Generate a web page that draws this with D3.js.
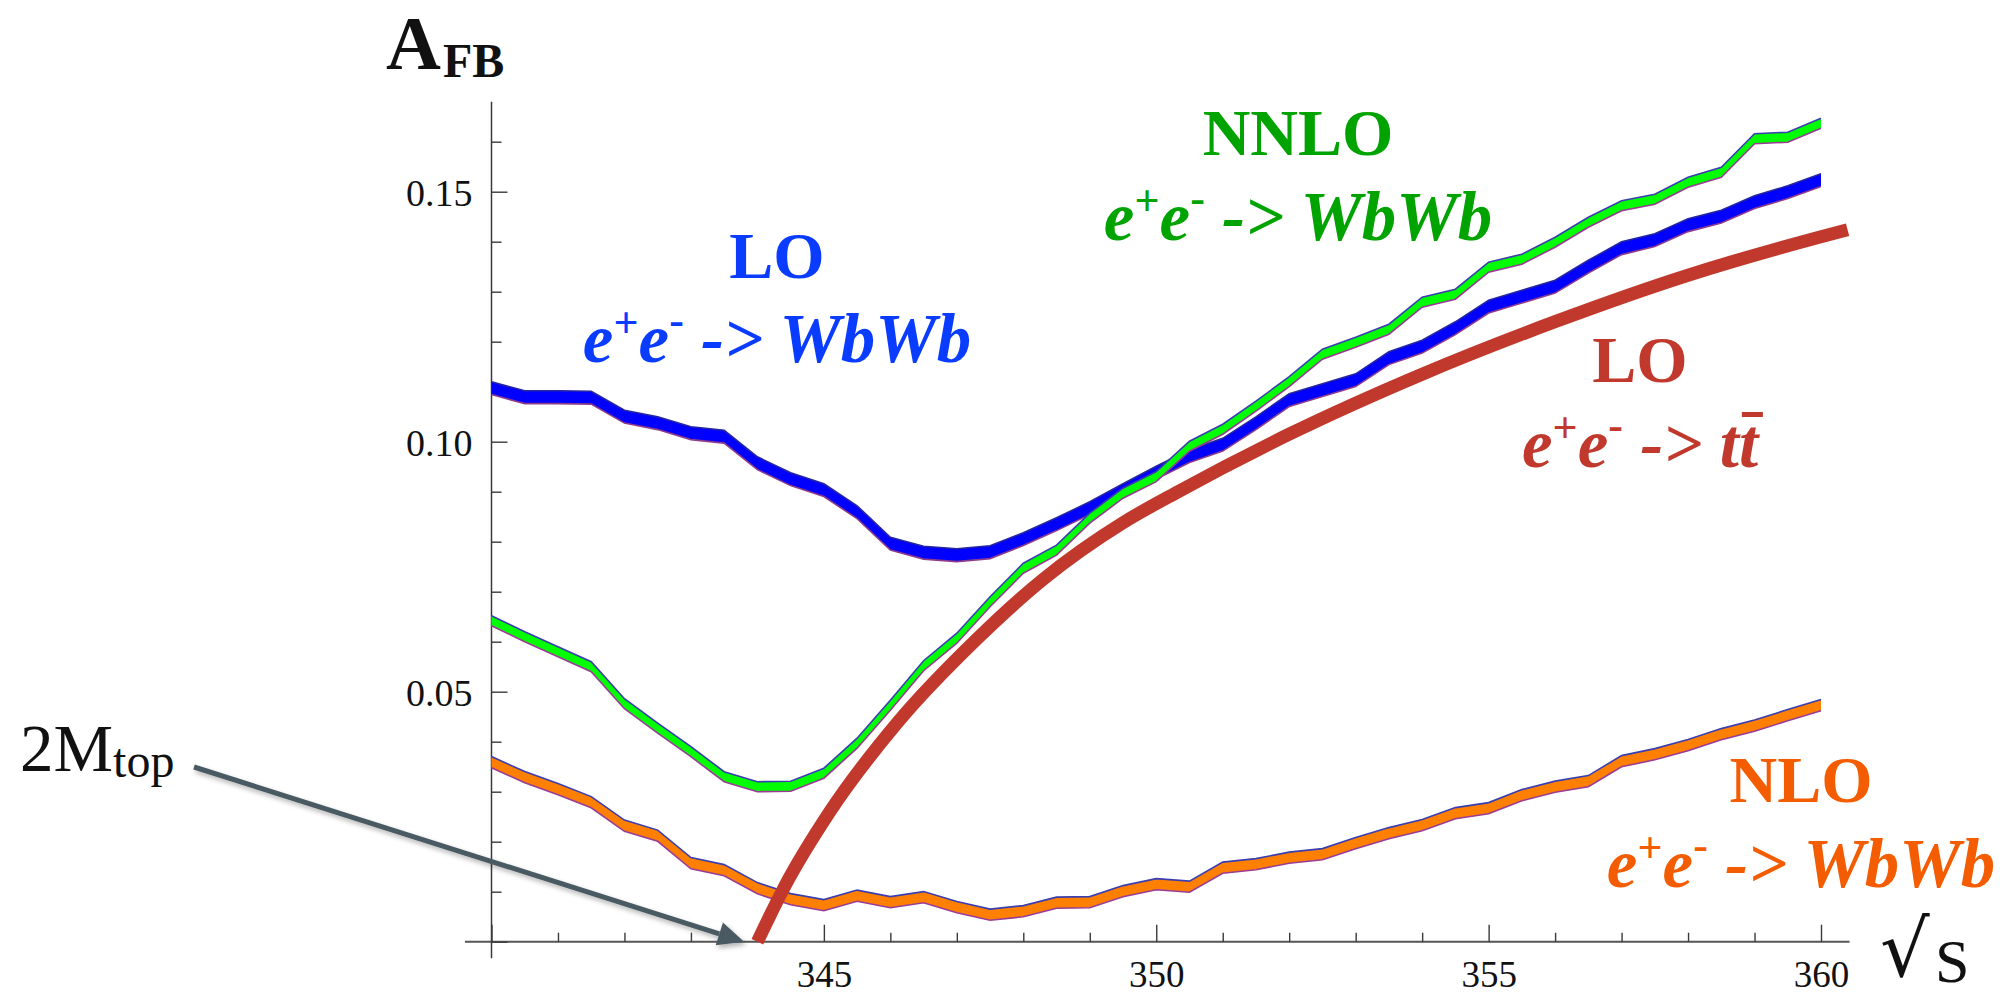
<!DOCTYPE html>
<html>
<head>
<meta charset="utf-8">
<script src="https://cdn.jsdelivr.net/npm/d3@7"></script>
<style>
  body { margin: 0; background: #fff; }
  svg { display: block; }
</style>
</head>
<body>
<div id="chart"></div>
<script>
(() => {
'use strict';

const WIDTH = 2000;
const HEIGHT = 996;

// sqrt(s) grid of the WbWb calculation (GeV)
const SQRT_S = [
  340, 340.5, 341, 341.5, 342, 342.5, 343, 343.5, 344, 344.5,
  345, 345.5, 346, 346.5, 347, 347.5, 348, 348.5, 349, 349.5,
  350, 350.5, 351, 351.5, 352, 352.5, 353, 353.5, 354, 354.5,
  355, 355.5, 356, 356.5, 357, 357.5, 358, 358.5, 359, 359.5, 360
];

const AFB_LO = [
  0.1107, 0.1089, 0.1089, 0.1088, 0.1050, 0.1037, 0.1017, 0.1010, 0.0957, 0.0925,
  0.0903, 0.0859, 0.0796, 0.0778, 0.0773, 0.0779, 0.0805, 0.0835, 0.0867, 0.0903,
  0.0938, 0.0971, 0.0994, 0.1037, 0.1083, 0.1103, 0.1123, 0.1167, 0.1190, 0.1227,
  0.1270, 0.1290, 0.1310, 0.1350, 0.1387, 0.1403, 0.1433, 0.1450, 0.1479, 0.1499, 0.1523
];

const AFB_NLO = [
  0.0359, 0.0329, 0.0305, 0.0279, 0.0232, 0.0212, 0.0157, 0.0143, 0.0107, 0.0085,
  0.0073, 0.0092, 0.0079, 0.0089, 0.0069, 0.0054, 0.0061, 0.0078, 0.0079, 0.0101,
  0.0115, 0.0110, 0.0148, 0.0155, 0.0168, 0.0175, 0.0197, 0.0217, 0.0233, 0.0257,
  0.0267, 0.0293, 0.0310, 0.0321, 0.0361, 0.0375, 0.0393, 0.0415, 0.0432, 0.0453, 0.0473
];

const AFB_NNLO = [
  0.0642, 0.0610, 0.0580, 0.0550, 0.0476, 0.0427, 0.0380, 0.0330, 0.0310, 0.0311,
  0.0337, 0.0397, 0.0473, 0.0552, 0.0607, 0.0680, 0.0747, 0.0783, 0.0847, 0.0897,
  0.0930, 0.0991, 0.1025, 0.1071, 0.1120, 0.1175, 0.1199, 0.1225, 0.1279, 0.1295,
  0.1349, 0.1365, 0.1399, 0.1439, 0.1472, 0.1485, 0.1519, 0.1539, 0.1606, 0.1609, 0.1637
];

// LO e+e- -> t tbar, smooth curve
const TT_S = [344, 344.4, 345.1, 346.1, 347.3, 348.3, 349.5, 350.3, 352, 354, 356, 358, 360, 360.4];
const TT_AFB = [0, 0.0108, 0.0262, 0.0437, 0.0605, 0.0725, 0.0838, 0.0898, 0.1015, 0.1135,
  0.1240, 0.1333, 0.1410, 0.1424];

const X_MAJOR = [340, 345, 350, 355, 360];
const X_MINOR = [341, 342, 343, 344, 346, 347, 348, 349, 351, 352, 353, 354, 356, 357, 358, 359];
const Y_MAJOR = [0, 0.05, 0.10, 0.15];
const Y_MINOR = [0.01, 0.02, 0.03, 0.04, 0.06, 0.07, 0.08, 0.09, 0.11, 0.12, 0.13, 0.14, 0.16];
const X_LABELS = ['', '345', '350', '355', '360'];
const Y_LABELS = ['', '0.05', '0.10', '0.15'];
const X_EXTENT = [339.6, 360.43];
const Y_EXTENT = [-0.0033, 0.168];
const THRESHOLD = 343.8;

const SERIF = "'Liberation Serif', 'Times New Roman', serif";

const svg = d3.select('#chart')
  .append('svg')
  .attr('width', WIDTH)
  .attr('height', HEIGHT);

const defs = svg.append('defs');
defs.append('filter')
  .attr('id', 'shadow')
  .attr('x', '-10%').attr('y', '-10%')
  .attr('width', '120%').attr('height', '140%')
  .append('feDropShadow')
    .attr('dx', 2).attr('dy', 3)
    .attr('stdDeviation', 2.5)
    .attr('flood-color', '#000')
    .attr('flood-opacity', 0.3);

const xScale = d3.scaleLinear().domain([340, 360]).range([491.5, 1821]);
const yScale = d3.scaleLinear().domain([0, 0.15]).range([941.7, 191.7]);

// axes
const axisColor = '#3a3a3a';

svg.append('line')
  .attr('x1', xScale(X_EXTENT[0])).attr('x2', xScale(X_EXTENT[1]))
  .attr('y1', yScale(0)).attr('y2', yScale(0))
  .attr('stroke', '#555').attr('stroke-width', 2);

svg.append('line')
  .attr('x1', xScale(340)).attr('x2', xScale(340))
  .attr('y1', yScale(Y_EXTENT[0])).attr('y2', yScale(Y_EXTENT[1]))
  .attr('stroke', axisColor).attr('stroke-width', 1.5);

const styleAxis = (g) => {
  g.select('.domain').remove();
  g.selectAll('.tick line').attr('stroke', axisColor).attr('stroke-width', 1.4);
  g.selectAll('.tick text')
    .attr('fill', '#111')
    .style('font-family', SERIF)
    .style('font-size', '37px');
};

svg.append('g')
  .attr('transform', `translate(0, ${yScale(0)})`)
  .call(d3.axisBottom(xScale).tickValues(X_MINOR).tickSize(-9).tickFormat(''))
  .call(styleAxis);

svg.append('g')
  .attr('transform', `translate(0, ${yScale(0)})`)
  .call(d3.axisBottom(xScale).tickValues(X_MAJOR).tickSize(-17).tickPadding(0)
    .tickFormat((d, i) => X_LABELS[i]))
  .call(styleAxis)
  .selectAll('.tick text').attr('dy', null).attr('y', 45);

svg.append('g')
  .attr('transform', `translate(${xScale(340)}, 0)`)
  .call(d3.axisLeft(yScale).tickValues(Y_MINOR).tickSize(-10).tickFormat(''))
  .call(styleAxis);

svg.append('g')
  .attr('transform', `translate(${xScale(340)}, 0)`)
  .call(d3.axisLeft(yScale).tickValues(Y_MAJOR).tickSize(-16).tickPadding(19)
    .tickFormat((d, i) => Y_LABELS[i]))
  .call(styleAxis)
  .selectAll('.tick text').attr('dy', '0.36em').style('font-size', '38px');

// WbWb bands
const SERIES = [
  { values: AFB_LO, fill: '#0000ff', top: '#2626a0', bottom: '#8c3a8c', half: 6.4 },
  { values: AFB_NNLO, fill: '#00ff00', top: '#3a3eb0', bottom: '#9a3c96', half: 5 },
  { values: AFB_NLO, fill: '#ff8000', top: '#3a3eb0', bottom: '#9a3c96', half: 5.6 }
];

SERIES.forEach((s) => {
  const pts = SQRT_S.map((v, i) => [v, s.values[i]]);
  const g = svg.append('g');
  g.append('path')
    .datum(pts)
    .attr('fill', s.fill)
    .attr('d', d3.area()
      .x((d) => xScale(d[0]))
      .y0((d) => yScale(d[1]) + s.half)
      .y1((d) => yScale(d[1]) - s.half));
  g.append('path')
    .datum(pts)
    .attr('fill', 'none')
    .attr('stroke', s.top)
    .attr('stroke-width', 1.6)
    .attr('d', d3.line().x((d) => xScale(d[0])).y((d) => yScale(d[1]) - s.half));
  g.append('path')
    .datum(pts)
    .attr('fill', 'none')
    .attr('stroke', s.bottom)
    .attr('stroke-width', 1.6)
    .attr('d', d3.line().x((d) => xScale(d[0])).y((d) => yScale(d[1]) + s.half));
});

// LO t tbar
svg.append('path')
  .datum(TT_S.map((v, i) => [v, TT_AFB[i]]))
  .attr('fill', 'none')
  .attr('stroke', '#c1392d')
  .attr('stroke-width', 13)
  .attr('d', d3.line()
    .curve(d3.curveMonotoneX)
    .x((d) => xScale(d[0]))
    .y((d) => yScale(d[1])));

// 2M_top arrow
const tail = [194, 767];
const tip = [xScale(THRESHOLD), yScale(0)];
const ang = Math.atan2(tip[1] - tail[1], tip[0] - tail[0]);
const headLen = 26;
const headHalf = 12;
const base = [tip[0] - headLen * Math.cos(ang), tip[1] - headLen * Math.sin(ang)];
const arrow = svg.append('g').attr('filter', 'url(#shadow)');
arrow.append('line')
  .attr('x1', tail[0]).attr('y1', tail[1])
  .attr('x2', base[0]).attr('y2', base[1])
  .attr('stroke', '#4a5a62')
  .attr('stroke-width', 5);
arrow.append('path')
  .attr('fill', '#4a5a62')
  .attr('d', `M${tip[0]},${tip[1]}` +
    `L${base[0] - headHalf * Math.sin(ang)},${base[1] + headHalf * Math.cos(ang)}` +
    `L${base[0] + headHalf * Math.sin(ang)},${base[1] - headHalf * Math.cos(ang)}Z`);

svg.append('text')
  .attr('x', 20).attr('y', 771)
  .style('font-family', SERIF)
  .attr('fill', '#111')
  .call((t) => {
    t.append('tspan').style('font-size', '67px').text('2M');
    t.append('tspan').style('font-size', '48px').attr('dy', 6).text('top');
  });

// axis titles
svg.append('text')
  .attr('x', 386).attr('y', 69)
  .style('font-family', SERIF)
  .style('font-weight', 'bold')
  .attr('fill', '#111')
  .call((t) => {
    t.append('tspan').style('font-size', '76px').text('A');
    t.append('tspan').style('font-size', '48px').attr('dy', 8).attr('dx', 2).text('FB');
  });

svg.append('text')
  .attr('x', 1880).attr('y', 976)
  .style('font-family', "'DejaVu Sans', sans-serif")
  .style('font-size', '78px')
  .attr('fill', '#111')
  .text('√');
svg.append('text')
  .attr('x', 1935).attr('y', 982)
  .style('font-family', SERIF)
  .style('font-size', '62px')
  .attr('fill', '#111')
  .text('S');

// curve labels
const LABELS = [
  { head: 'LO', to: 'WbWb', color: '#0a3cff', x: 777, y1: 278, y2: 362 },
  { head: 'NNLO', to: 'WbWb', color: '#00a300', x: 1298, y1: 155, y2: 240 },
  { head: 'LO', to: 'tt', color: '#c1392d', x: 1640, y1: 382, y2: 467 },
  { head: 'NLO', to: 'WbWb', color: '#f45c02', x: 1801, y1: 802, y2: 887 }
];

LABELS.forEach((l) => {
  svg.append('text')
    .attr('x', l.x).attr('y', l.y1)
    .attr('text-anchor', 'middle')
    .attr('fill', l.color)
    .style('font-family', SERIF)
    .style('font-weight', 'bold')
    .style('font-size', '66px')
    .text(l.head);

  const t = svg.append('text')
    .attr('x', l.x).attr('y', l.y2)
    .attr('text-anchor', 'middle')
    .attr('fill', l.color)
    .style('font-family', SERIF)
    .style('font-weight', 'bold')
    .style('font-style', 'italic')
    .style('font-size', '69px');
  t.append('tspan').text('e');
  t.append('tspan').attr('dy', -25).style('font-size', '44px').style('font-style', 'normal').text('+');
  t.append('tspan').attr('dy', 25).text('e');
  t.append('tspan').attr('dy', -27).style('font-size', '44px').style('font-style', 'normal').text('-');
  t.append('tspan').attr('dy', 27).text('\u00a0-> ');
  t.append('tspan').text(l.to);

  if (l.to === 'tt') {
    const node = t.node();
    const n = node.getNumberOfChars();
    const s = node.getStartPositionOfChar(n - 1);
    svg.append('rect')
      .attr('x', s.x + 3).attr('y', l.y2 - 55)
      .attr('width', 21).attr('height', 5)
      .attr('fill', l.color);
  }
});

})();
</script>
</body>
</html>
